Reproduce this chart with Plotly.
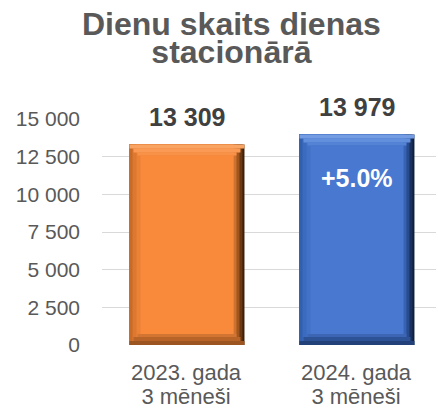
import plotly.graph_objects as go

# ---- data ----
categories = ["2023. gada<br>3 mēneši", "2024. gada<br>3 mēneši"]
values = [13309, 13979]
value_labels = ["13 309", "13 979"]
tick_values = [0, 2500, 5000, 7500, 10000, 12500, 15000]
tick_labels = ["0", "2 500", "5 000", "7 500", "10 000", "12 500", "15 000"]
title_lines = ["Dienu skaits dienas", "stacionārā"]

# ---- style ----
FONT = "Liberation Sans, Arial, sans-serif"
GRAY = "#595959"
PX_X = 170.0                 # pixels per category unit
PX_Y = 15000 / 226.0         # value units per pixel
BAR_PX = 115                 # bar width in pixels
W = BAR_PX / PX_X

# bevel palettes: [orange, blue]
pal = {
    "face": ["#F98A3B", "#4878CF"],
    "t1": ["#FAA464", "#739CE3"], "t2": ["#FA9A55", "#6390DD"], "t3": ["#F99249", "#5483D6"],
    "b1": ["#9C5520", "#22407A"], "b2": ["#B86428", "#2E5296"], "b3": ["#D27532", "#3C66B4"],
    "l1": ["#C96A27", "#3360AE"], "l2": ["#DC7830", "#3B6BBE"], "l3": ["#EB8236", "#4272C8"],
    "r1": ["#3D2008", "#0F1E3C"], "r2": ["#6A3812", "#1A3160"], "r3": ["#A0561E", "#284C8E"],
    "r4": ["#CF7230", "#3863B4"], "r5": ["#E98236", "#4170C6"],
}

xs = list(range(len(values)))
fig = go.Figure()


def rect(l, r, bottoms, tops, colors):
    """rectangle between pixel offsets l..r from each bar's left edge"""
    fig.add_trace(go.Bar(
        x=xs, base=bottoms, y=[t - b for t, b in zip(tops, bottoms)],
        offset=-W / 2 + l / PX_X, width=(r - l) / PX_X,
        marker=dict(color=colors, line=dict(width=0)),
        hoverinfo="skip", showlegend=False))


zeros = [0] * len(values)
# right-side shading (full height)
rect(0, 115, zeros, values, pal["r1"])
rect(0, 113, zeros, values, pal["r2"])
rect(0, 110, zeros, values, pal["r3"])
rect(0, 107, zeros, values, pal["r4"])
rect(0, 104, zeros, values, pal["r5"])
# left-side shading
rect(0, 104, zeros, values, pal["l1"])
rect(3, 104, zeros, values, pal["l2"])
rect(7, 104, zeros, values, pal["l3"])
# top bevel
rect(0, 115, [v - 4 * PX_Y for v in values], values, pal["t1"])
rect(4, 111, [v - 8 * PX_Y for v in values], [v - 4 * PX_Y for v in values], pal["t2"])
rect(8, 107, [v - 11 * PX_Y for v in values], [v - 8 * PX_Y for v in values], pal["t3"])
# bottom bevel
rect(0, 115, zeros, [4 * PX_Y] * len(values), pal["b1"])
rect(4, 111, [4 * PX_Y] * len(values), [8 * PX_Y] * len(values), pal["b2"])
rect(8, 107, [8 * PX_Y] * len(values), [11 * PX_Y] * len(values), pal["b3"])
# main face
rect(11, 104, [11 * PX_Y] * len(values), [v - 11 * PX_Y for v in values], pal["face"])

# value labels above bars
for i, v in enumerate(values):
    fig.add_annotation(x=i, y=v, text="<b>%s</b>" % value_labels[i], showarrow=False,
                       yanchor="bottom", yshift=11,
                       font=dict(family=FONT, size=25, color="#404040"))

# percentage change inside second bar
pct = (values[1] / values[0] - 1) * 100
fig.add_annotation(x=1, y=values[1], text="<b>%+.1f%%</b>" % pct, showarrow=False,
                   yanchor="middle", yshift=-44,
                   font=dict(family=FONT, size=25, color="white"))

# category labels (two lines each, tight line spacing via small base font)
for i, c in enumerate(categories):
    txt = "<br>".join('<span style="font-size:22px">%s</span>' % ln for ln in c.split("<br>"))
    fig.add_annotation(x=i, y=(345 - 384) / 226, xref="x", yref="paper",
                       text=txt, showarrow=False, yanchor="middle",
                       font=dict(family=FONT, size=18.5, color=GRAY))

# title (two lines, tight line spacing)
title_txt = "<br>".join('<span style="font-size:32px"><b>%s</b></span>' % ln for ln in title_lines)
fig.add_annotation(x=(231 - 102) / 334, y=(345 - 38) / 226, xref="paper", yref="paper",
                   text=title_txt, showarrow=False, align="center",
                   xanchor="center", yanchor="middle",
                   font=dict(family=FONT, size=21.5, color=GRAY))

fig.update_layout(
    width=438, height=408,
    margin=dict(l=102, r=2, t=119, b=63),
    paper_bgcolor="white", plot_bgcolor="white",
    barmode="overlay",
    font=dict(family=FONT, color=GRAY),
    xaxis=dict(range=[-0.5, 1.465], tickvals=xs, showticklabels=False,
               showgrid=False, zeroline=False, showline=False,
               ticks="", fixedrange=True, automargin=False),
    yaxis=dict(range=[0, 15000], tickvals=tick_values, ticktext=tick_labels,
               showgrid=True, gridcolor="#D9D9D9", gridwidth=1.3,
               zeroline=False, showline=False, ticks="",
               tickfont=dict(family=FONT, size=21, color=GRAY),
               ticklabelstandoff=21, fixedrange=True, automargin=False),
)

fig.write_html("out.html", config={"displayModeBar": False},
               post_script="document.body.style.margin='0';")
